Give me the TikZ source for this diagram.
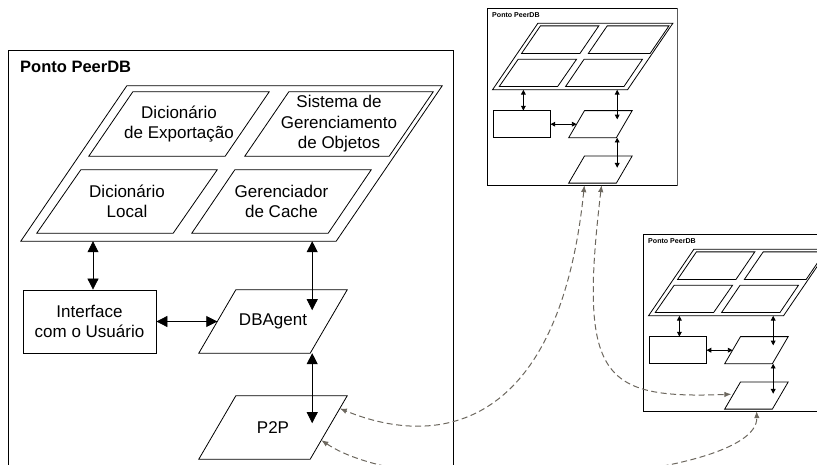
\documentclass[tikz,border=0pt]{standalone}
\usepackage{fontspec}
\setmainfont{Liberation Sans}
\usetikzlibrary{arrows.meta,calc}

% texts inside a peer are only printed in the full-size drawing
\newif\ifpeerlabels
\peerlabelstrue

\definecolor{linkgray}{RGB}{108,103,94}

% slanted outline around a node whose body is the horizontal part of the
% parallelogram; #1 = node name, #2 = horizontal offset of the top edge
\newcommand\pgramoutline[2]{%
  \coordinate (#1-tl) at ($(#1.north west)+(#2/2,0)$);
  \coordinate (#1-tr) at ($(#1.north east)+(#2/2,0)$);
  \coordinate (#1-br) at ($(#1.south east)-(#2/2,0)$);
  \coordinate (#1-bl) at ($(#1.south west)-(#2/2,0)$);
  \draw[outline] (#1-tl) -- (#1-tr) -- (#1-br) -- (#1-bl) -- cycle;
}

\tikzset{
  tipscale/.store in=\tipscale, tipscale=1,
  outline/.style={draw=black, line width=0.8pt},
  txt/.style={font=\fontsize{17}{20.5}\selectfont, align=center},
  body/.style={rectangle, inner sep=0.5pt, txt},
  boxnode/.style={rectangle, draw=black, line width=0.8pt, inner sep=0.5pt, txt},
  link/.style={line width=0.8pt,
    arrows={Triangle[length=11pt,width=11pt,scale=\tipscale]-Triangle[length=11pt,width=11pt,scale=\tipscale]}},
  peerlink/.style={draw=linkgray, line width=1pt, dash pattern=on 6pt off 3.5pt,
    arrows={Latex[length=7pt,width=5.5pt]-Latex[length=7pt,width=5.5pt]}},
  pics/peer/.style={code={
    % frame and title
    \node[draw=black, line width=0.8pt, minimum width=445pt, minimum height=415pt,
          anchor=north west, inner sep=0pt] (-frame) at (0,0) {};
    \node[anchor=west, inner sep=0pt, font=\bfseries\fontsize{16.5}{19}\selectfont]
          (-title) at (12,-17) {Ponto PeerDB};
    % object layer
    \node[body, minimum width=315pt, minimum height=155pt] (-big) at (223.5,-113.5) {};
    \pgramoutline{-big}{106}
    \node[body, minimum width=136pt, minimum height=64pt] (-exp) at (171,-74)
          {\ifpeerlabels Dicionário\\de Exportação\fi};
    \pgramoutline{-exp}{44}
    \node[body, minimum width=144pt, minimum height=64pt] (-sis) at (331,-74)
          {\ifpeerlabels Sistema de\\Gerenciamento\\de Objetos\fi};
    \pgramoutline{-sis}{44}
    \node[body, minimum width=136pt, minimum height=63pt] (-loc) at (119,-151.5)
          {\ifpeerlabels Dicionário\\Local\fi};
    \pgramoutline{-loc}{44}
    \node[body, minimum width=136pt, minimum height=63pt] (-cache) at (273.5,-151.5)
          {\ifpeerlabels Gerenciador\\de Cache\fi};
    \pgramoutline{-cache}{43}
    % interface, agent and network layer
    \node[boxnode, minimum width=133pt, minimum height=63pt] (-iface) at (81.5,-271.5)
          {\ifpeerlabels Interface\\com o Usuário\fi};
    \node[body, minimum width=111pt, minimum height=63pt] (-dba) at (273-8,-271.5)
          {\ifpeerlabels DBAgent\fi};
    \pgramoutline{-dba}{37}
    \node[body, minimum width=111pt, minimum height=63pt] (-p2p) at (273-8,-377.5)
          {\ifpeerlabels P2P\fi};
    \pgramoutline{-p2p}{37}
    % connectors
    \coordinate (-t0) at ($(-iface.north)+(3.5,0)$);
    \coordinate (-t1) at ($(-dba-br)+(2,43)$);
    \coordinate (-t2) at ($(-p2p-br)+(2,36)$);
    \draw[link] (-t0 |- -big.south) -- (-t0);
    \draw[link] (-t1 |- -big.south) -- (-t1);
    \draw[link] (-iface.east) -- (-dba.west);
    \draw[link] (-t2 |- -dba.south) -- (-t2);
  }}
}

\begin{document}
\begin{tikzpicture}[x=1pt, y=1pt]
  \useasboundingbox (0,0) rectangle (817,-465);

  % full-size peer
  \begin{scope}[shift={(8,-50)}]
    \pic (m) at (0,0) {peer};
  \end{scope}

  % remote peer, upper right (cut off on its right side)
  \begin{scope}
    \clip (480,0) rectangle (677.6,-200);
    \begin{scope}[shift={(487,-8)}, scale=0.428, transform shape, tipscale=0.43]
      \peerlabelsfalse
      \pic (t) at (0,0) {peer};
    \end{scope}
  \end{scope}

  % remote peer, lower right
  \begin{scope}[shift={(643,-234)}, scale=0.428, transform shape, tipscale=0.43]
    \peerlabelsfalse
    \pic (s) at (0,0) {peer};
  \end{scope}

  % peer-to-peer links
  \coordinate (tA) at ($($(t-p2p-bl)!0.33!(t-p2p-br)$)+(0,-2)$);
  \coordinate (tB) at ($($(t-p2p-bl)!0.69!(t-p2p-br)$)+(0,-2)$);
  \coordinate (mA) at ($(m-p2p-tr)!0.2!(m-p2p-br)$);
  \coordinate (mB) at ($(m-p2p-tr)!0.7!(m-p2p-br)$);
  \coordinate (sA) at ($($(s-p2p-tl)!0.45!(s-p2p-bl)$)+(-2,0)$);
  \coordinate (sB) at ($($(s-p2p-bl)!0.67!(s-p2p-br)$)+(0,-2)$);

  \draw[peerlink] (tA) .. controls +(-25,-243) and +(100,-41) .. (mA);
  \draw[peerlink] (tB) .. controls +(-23,-193) and +(-130,-5) .. (sA);
  \draw[peerlink] (mB) .. controls +(97,-65) and +(2,-68) .. (sB);
\end{tikzpicture}
\end{document}
